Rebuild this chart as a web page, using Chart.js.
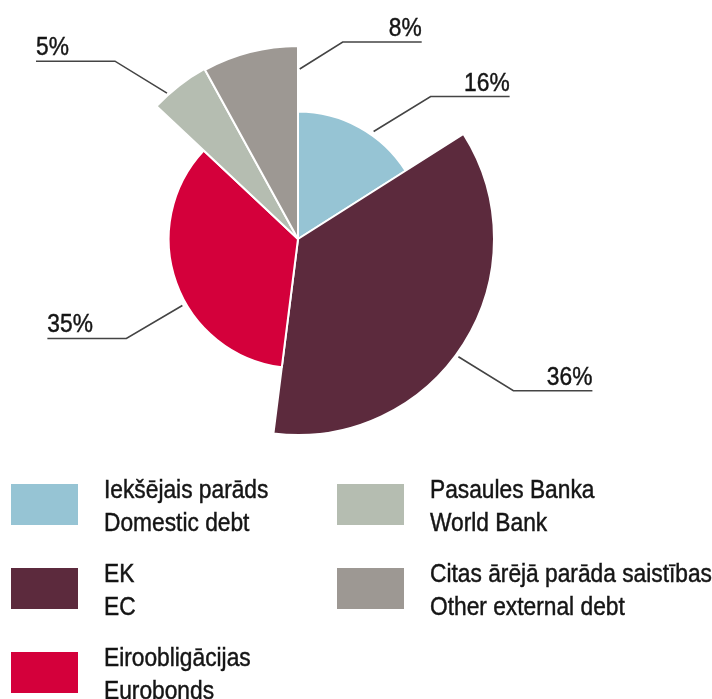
<!DOCTYPE html>
<html>
<head>
<meta charset="utf-8">
<script src="https://cdn.jsdelivr.net/npm/chart.js@4/dist/chart.umd.min.js"></script>
<style>
  html, body { margin: 0; padding: 0; background: #fff; }
  #wrap { width: 712px; height: 699px; position: relative; }
</style>
</head>
<body>
<div id="wrap"><canvas id="debtChart"></canvas></div>
<script>
var labelsLv = ['Iekšējais parāds', 'EK', 'Eiroobligācijas', 'Pasaules Banka', 'Citas ārējā parāda saistības'];
var labelsEn = ['Domestic debt', 'EC', 'Eurobonds', 'World Bank', 'Other external debt'];
var shares = [16, 36, 35, 5, 8];

// styling
var sliceColors = ['#96c4d4', '#5c2a3d', '#d4003b', '#b5bdb1', '#9d9893'];
var radiusScale = [0.65, 1, 0.66, 0.99, 0.985];
// leader lines: t = position along the slice, gap = px beyond the rim, dx/dy = elbow offset
var callouts = [
    { t: 0.61, gap: 4, dx: 57, dy: -35 },
    { t: 0.53, gap: 3, dx: 55, dy: 34 },
    { t: 0.42, gap: 4, dx: -56, dy: 33 },
    { t: 0.27, gap: 2, dx: -52, dy: -32 },
    { t: 1.02, gap: -23, dx: 43, dy: -27 }
];
var leaderLength = 79;
var textColor = '#151515';
var fontPx = 25;
var squeeze = 0.91;

function narrowText(ctx, str, x, y, align) {
    ctx.save();
    ctx.translate(x, y);
    ctx.scale(squeeze, 1);
    ctx.textAlign = align;
    ctx.textBaseline = 'alphabetic';
    ctx.fillStyle = textColor;
    ctx.strokeStyle = textColor;
    ctx.lineWidth = 0.45;
    ctx.font = fontPx + 'px "Liberation Sans", Arial, sans-serif';
    ctx.fillText(str, 0, 0);
    ctx.strokeText(str, 0, 0);
    ctx.restore();
}

// each slice gets its own outer radius
var sliceRadius = {
    id: 'sliceRadius',
    afterDatasetsUpdate: function (chart) {
        var meta = chart.getDatasetMeta(0);
        var base = meta.controller.outerRadius;
        meta.data.forEach(function (arc, i) {
            arc.outerRadius = base * radiusScale[i];
        });
    }
};

var leaderLabels = {
    id: 'leaderLabels',
    afterDatasetsDraw: function (chart) {
        var ctx = chart.ctx;
        var meta = chart.getDatasetMeta(0);
        meta.data.forEach(function (arc, i) {
            var c = callouts[i];
            var a = arc.startAngle + (arc.endAngle - arc.startAngle) * c.t;
            var r = arc.outerRadius + c.gap;
            var x0 = arc.x + Math.cos(a) * r;
            var y0 = arc.y + Math.sin(a) * r;
            var x1 = x0 + c.dx;
            var y1 = y0 + c.dy;
            var right = c.dx > 0;
            var x2 = right ? x1 + leaderLength : x1 - leaderLength;

            ctx.save();
            ctx.strokeStyle = '#444';
            ctx.lineWidth = 1.6;
            ctx.beginPath();
            ctx.moveTo(x0, y0);
            ctx.lineTo(x1, y1);
            ctx.lineTo(x2, y1);
            ctx.stroke();
            ctx.restore();

            narrowText(ctx, shares[i] + '%', x2, y1 - 6, right ? 'right' : 'left');
        });
    }
};

var boxLegend = {
    id: 'boxLegend',
    afterDraw: function (chart) {
        var ctx = chart.ctx;
        var colX = [11, 337];
        var top = 484;
        var pitch = 84;
        labelsLv.forEach(function (lv, i) {
            var col = i < 3 ? 0 : 1;
            var row = i < 3 ? i : i - 3;
            var x = colX[col];
            var y = top + row * pitch;
            ctx.fillStyle = sliceColors[i];
            ctx.fillRect(x, y, 67, 41);
            narrowText(ctx, lv, x + 93, y + 14, 'left');
            narrowText(ctx, labelsEn[i], x + 93, y + 47, 'left');
        });
    }
};

var ctx = document.getElementById('debtChart').getContext('2d');

var debtChart = new Chart(ctx, {
    type: 'pie',
    data: {
        labels: labelsEn,
        datasets: [{
            data: shares,
            backgroundColor: sliceColors,
            borderColor: '#ffffff',
            borderWidth: 2,
            radius: 196
        }]
    },
    options: {
        responsive: true,
        maintainAspectRatio: false,
        animation: false,
        layout: {
            padding: { left: 0, right: 116, top: 0, bottom: 221 }
        },
        plugins: {
            legend: { display: false },
            tooltip: { enabled: false }
        }
    },
    plugins: [sliceRadius, leaderLabels, boxLegend]
});
</script>
</body>
</html>
